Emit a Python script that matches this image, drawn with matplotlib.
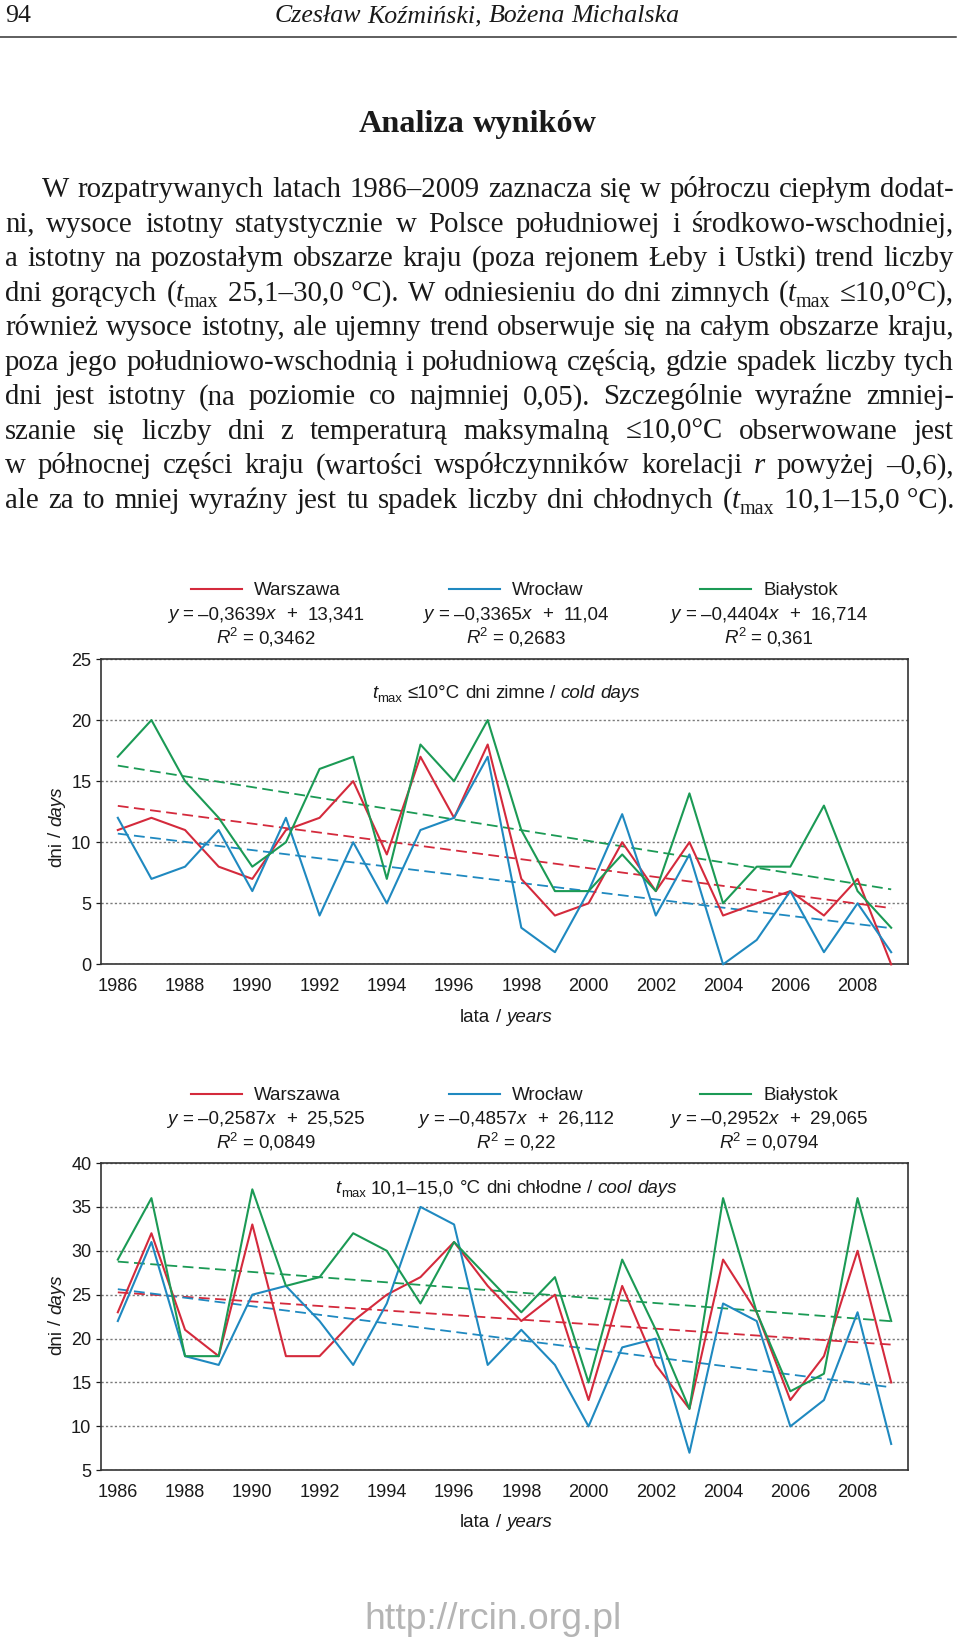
import numpy as np
import matplotlib
matplotlib.use('Agg')
from matplotlib import pyplot as plt
from matplotlib.font_manager import FontProperties
from matplotlib.lines import Line2D

# dane: lata 1986-2009
lata = list(range(1986, 2010))
stacje = ['Warszawa', 'Wrocław', 'Białystok']
kolory = ['#d42a3c', '#1f89c0', '#1b9a55']

# dni zimne, tmax <= 10 C
zimne_warszawa = [11, 12, 11, 8, 7, 11, 12, 15, 9, 17, 12, 18, 7, 4, 5, 10, 6, 10, 4, 5, 6, 4, 7, 0]
zimne_wroclaw = [12, 7, 8, 11, 6, 12, 4, 10, 5, 11, 12, 17, 3, 1, 6, 12.3, 4, 9, 0, 2, 6, 1, 5, 1]
zimne_bialystok = [17, 20, 15, 12, 8, 10, 16, 17, 7, 18, 15, 20, 11, 6, 6, 9, 6, 14, 5, 8, 8, 13, 6, 3]
zimne_a = [-0.3639, -0.3365, -0.4404]
zimne_b = [13.341, 11.04, 16.714]
zimne_r2 = [0.3462, 0.2683, 0.361]

# dni chlodne, tmax 10,1-15,0 C
chlodne_warszawa = [23, 32, 21, 18, 33, 18, 18, 22, 25, 27, 31, 26, 22, 25, 13, 26, 17, 12, 29, 23, 13, 18, 30, 15]
chlodne_wroclaw = [22, 31, 18, 17, 25, 26, 22, 17, 24, 35, 33, 17, 21, 17, 10, 19, 20, 7, 24, 22, 10, 13, 23, 8]
chlodne_bialystok = [29, 36, 18, 18, 37, 26, 27, 32, 30, 24, 31, 27, 23, 27, 15, 29, 21, 12, 36, 23, 14, 16, 36, 22]
chlodne_a = [-0.2587, -0.4857, -0.2952]
chlodne_b = [25.525, 26.112, 29.065]
chlodne_r2 = [0.0849, 0.22, 0.0794]

xticks = [1986, 1988, 1990, 1992, 1994, 1996, 1998, 2000, 2002, 2004, 2006, 2008]

# tekst strony
naglowek = 'Czesław Koźmiński, Bożena Michalska'
tytul = 'Analiza wyników'
akapit = [
    [('W rozpatrywanych latach 1986–2009 zaznacza się w półroczu ciepłym dodat-', 'n')],
    [('ni, wysoce istotny statystycznie w Polsce południowej i środkowo-wschodniej,', 'n')],
    [('a istotny na pozostałym obszarze kraju (poza rejonem Łeby i Ustki) trend liczby', 'n')],
    [('dni gorących (', 'n'), ('t', 'i'), ('max', 'sub'), (' 25,1–30,0\u00a0°C). W odniesieniu do dni zimnych (', 'n'),
     ('t', 'i'), ('max', 'sub'), (' ≤10,0°C),', 'n')],
    [('również wysoce istotny, ale ujemny trend obserwuje się na całym obszarze kraju,', 'n')],
    [('poza jego południowo-wschodnią i południową częścią, gdzie spadek liczby tych', 'n')],
    [('dni jest istotny (na poziomie co najmniej 0,05). Szczególnie wyraźne zmniej-', 'n')],
    [('szanie się liczby dni z temperaturą maksymalną ≤10,0°C obserwowane jest', 'n')],
    [('w północnej części kraju (wartości współczynników korelacji ', 'n'), ('r', 'i'), (' powyżej –0,6),', 'n')],
    [('ale za to mniej wyraźny jest tu spadek liczby dni chłodnych (', 'n'), ('t', 'i'), ('max', 'sub'),
     (' 10,1–15,0\u00a0°C).', 'n')],
]

W, H = 960, 1643
SERIF = ['Liberation Serif', 'DejaVu Serif']
SANS = ['Liberation Sans', 'DejaVu Sans']

fig = plt.figure(figsize=(W / 100, H / 100), dpi=100)
fig.patch.set_facecolor('white')
renderer = fig.canvas.get_renderer()


def fp(family, size, style='normal', weight='normal'):
    return FontProperties(family=family, size=size, style=style, weight=weight)


def tw(s, prop):
    return renderer.get_text_width_height_descent(s, prop, ismath=False)[0]


def spc(prop):
    return tw('n n', prop) - tw('nn', prop)


def style_set(family, size):
    px = size * 100 / 72
    return {'n': (fp(family, size), 0),
            'i': (fp(family, size, 'italic'), 0),
            'b': (fp(family, size, weight='bold'), 0),
            'sub': (fp(family, size * 0.7), 0.22 * px),
            'sup': (fp(family, size * 0.7), -0.38 * px)}


def pieces(segs):
    out = []
    for text, st in segs:
        for k, p in enumerate(text.split(' ')):
            if k:
                out.append((None, st))
            if p:
                out.append((p, st))
    return out


def measure(segs, sty):
    w, n = 0.0, 0
    for p, st in pieces(segs):
        if p is None:
            w += spc(sty[st][0])
            n += 1
        else:
            w += tw(p, sty[st][0])
    return w, n


def rich(x, y, segs, sty, ha='left', width=None, color='#1a1a1a', rot=False):
    # x, y w pikselach od lewego gornego rogu, y = linia bazowa
    w, n = measure(segs, sty)
    extra = (width - w) / n if (width and n) else 0
    if ha == 'center':
        x = x + w / 2 if rot else x - w / 2
    for p, st in pieces(segs):
        prop, dy = sty[st]
        if p is None:
            d = spc(prop) + extra
        else:
            if rot:
                fig.text((y + dy) / W, 1 - x / H, p, fontproperties=prop, rotation=90,
                         rotation_mode='anchor', ha='left', va='baseline', color=color)
            else:
                fig.text(x / W, 1 - (y + dy) / H, p, fontproperties=prop,
                         ha='left', va='baseline', color=color)
            d = tw(p, prop)
        x = x - d if rot else x + d


def fit(text, family, target, style='normal', weight='normal'):
    return 10 * target / tw(text, fp(family, 10, style, weight))


# naglowek strony
hs = fit(naglowek, SERIF, 404, 'italic')
hsty = style_set(SERIF, hs)
rich(5, 22, [('94', 'n')], hsty)
rich(477, 22, [(naglowek, 'i')], hsty, ha='center')
fig.add_artist(Line2D([0, 956 / W], [1 - 36.7 / H] * 2, color='#333333', lw=1.1))

ts = fit(tytul, SERIF, 238, weight='bold')
rich(478, 132, [(tytul, 'b')], style_set(SERIF, ts), ha='center')

# akapit wyjustowany
lewe = [42] + [5] * 9
s10 = style_set(SERIF, 10)
ratio = min((954 - l) / measure(line, s10)[0] for l, line in zip(lewe, akapit))
psty = style_set(SERIF, 10 * ratio * 0.99)
for k, line in enumerate(akapit):
    rich(lewe[k], 197 + 34.55 * k, line, psty, width=954 - lewe[k])

# wykresy
lsize = fit('Warszawa', SANS, 87)
lsty = style_set(SANS, lsize)
tsize = lsize * 0.97
kolumny = [266, 516, 769]


def num(v):
    return str(v).replace('.', ',')


def wykres(top, bottom, serie, wa, wb, wr2, ylim, yticks, podpis, y_leg, y_pod, y_lata, y_dni):
    ax = fig.add_axes([101 / W, 1 - bottom / H, 807 / W, (bottom - top) / H])
    idx = np.arange(1, len(lata) + 1)
    for k in range(3):
        ax.plot(lata, wa[k] * idx + wb[k], color=kolory[k], lw=1.3, ls=(0, (6, 3)), zorder=3)
    for k in range(3):
        ax.plot(lata, serie[k], color=kolory[k], lw=1.5, zorder=4, clip_on=False)
    ax.set_xlim(1985.5, 2009.5)
    ax.set_ylim(*ylim)
    ax.set_xticks(xticks)
    ax.set_yticks(yticks)
    ax.yaxis.grid(True, ls=(0, (1.6, 1.6)), color='#7a7a7a', lw=1.0)
    ax.set_axisbelow(True)
    for s in ax.spines.values():
        s.set_color('#333333')
        s.set_linewidth(1.2)
    ax.tick_params(axis='y', direction='out', length=3.5, width=0.9, pad=3.5,
                   labelsize=tsize, colors='#1a1a1a')
    ax.tick_params(axis='x', length=0, pad=10, labelsize=tsize, colors='#1a1a1a')
    for lab in ax.get_xticklabels() + ax.get_yticklabels():
        lab.set_fontfamily(SANS)

    # legenda i rownania
    for k in range(3):
        cx = kolumny[k]
        wt = tw(stacje[k], lsty['n'][0])
        x0 = cx - (63 + wt) / 2
        fig.add_artist(Line2D([x0 / W, (x0 + 51) / W], [1 - (y_leg - 6) / H] * 2,
                              color=kolory[k], lw=1.5))
        rich(x0 + 63, y_leg, [(stacje[k], 'n')], lsty)
        rich(cx, y_leg + 24, [('y', 'i'), (' = –' + num(abs(wa[k])), 'n'), ('x', 'i'),
                              ('  +  ' + num(wb[k]), 'n')], lsty, ha='center')
        rich(cx, y_leg + 48, [('R', 'i'), ('2', 'sup'), (' = ' + num(wr2[k]), 'n')], lsty, ha='center')

    rich(506, y_pod, podpis, lsty, ha='center')
    rich(506, y_lata, [('lata / ', 'n'), ('years', 'i')], lsty, ha='center')
    rich(y_dni, 61, [('dni / ', 'n'), ('days', 'i')], lsty, ha='center', rot=True)
    return ax


wykres(659, 964.4, [zimne_warszawa, zimne_wroclaw, zimne_bialystok], zimne_a, zimne_b, zimne_r2,
       (0, 25), [0, 5, 10, 15, 20, 25],
       [('t', 'i'), ('max', 'sub'), (' ≤10°C dni zimne / ', 'n'), ('cold days', 'i')],
       595, 697.5, 1022.5, 827)

wykres(1163, 1470.3, [chlodne_warszawa, chlodne_wroclaw, chlodne_bialystok], chlodne_a, chlodne_b,
       chlodne_r2, (5, 40), [5, 10, 15, 20, 25, 30, 35, 40],
       [('t', 'i'), ('max', 'sub'), (' 10,1–15,0 °C dni chłodne / ', 'n'), ('cool days', 'i')],
       1100, 1193, 1527, 1315)

# znak wodny
ws = fit('http://rcin.org.pl', SANS, 258)
rich(493, 1629, [('http://rcin.org.pl', 'n')], style_set(SANS, ws), ha='center', color='#b5b5b5')

fig.savefig('out.png', dpi=100, facecolor='white')
